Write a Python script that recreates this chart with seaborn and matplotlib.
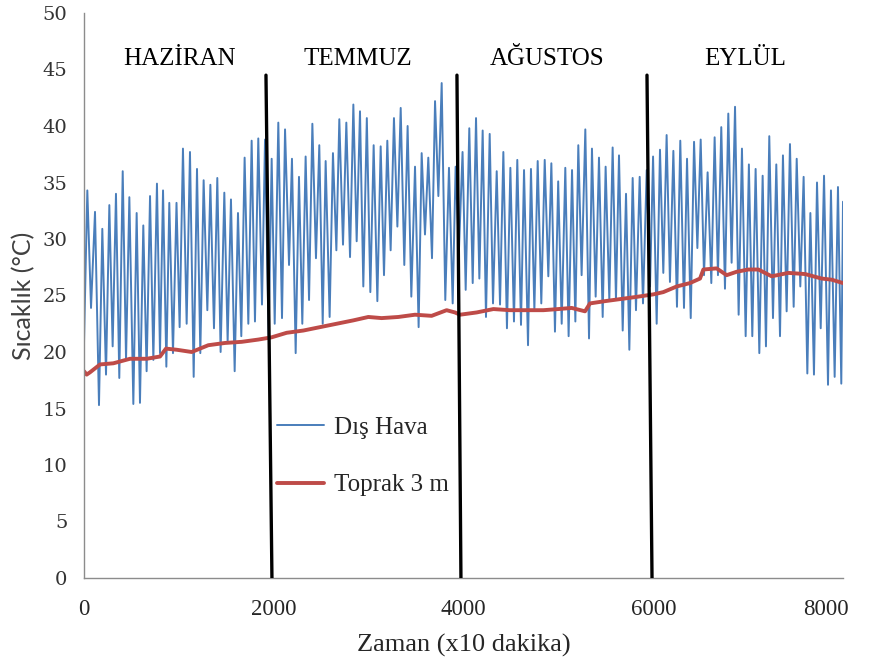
import matplotlib
matplotlib.use("Agg")
import matplotlib.pyplot as plt
import matplotlib.transforms as mtransforms
import pandas as pd
import seaborn as sns

# Outdoor air temperature: successive daily highs and lows (time in x10 min, °C)
air_x = [0, 35, 74, 116, 158, 193, 232, 267, 302, 337, 372, 408, 443, 478, 520, 555,
         590, 625, 660, 696, 731, 769, 801, 833, 868, 899, 938, 975, 1008, 1043, 1082,
         1117, 1156, 1191, 1226, 1261, 1300, 1332, 1370, 1405, 1440, 1479, 1514, 1549,
         1588, 1623, 1658, 1693, 1732, 1767, 1802, 1837, 1876, 1908, 1946, 1978, 2010,
         2048, 2087, 2119, 2161, 2192, 2231, 2266, 2301, 2336, 2372, 2407, 2445, 2480,
         2516, 2547, 2589, 2624, 2660, 2691, 2730, 2765, 2804, 2839, 2874, 2909, 2944,
         2981, 3018, 3053, 3092, 3127, 3162, 3197, 3232, 3267, 3303, 3338, 3376, 3411,
         3450, 3489, 3527, 3559, 3594, 3629, 3668, 3700, 3735, 3770, 3808, 3847, 3886,
         3917, 3952, 3990, 4023, 4061, 4097, 4132, 4167, 4202, 4237, 4276, 4311, 4350,
         4385, 4420, 4458, 4494, 4532, 4567, 4606, 4638, 4680, 4711, 4747, 4782, 4820,
         4856, 4894, 4926, 4964, 4998, 5035, 5073, 5108, 5144, 5179, 5210, 5245, 5284,
         5323, 5354, 5393, 5428, 5467, 5498, 5537, 5572, 5607, 5639, 5678, 5713, 5748,
         5783, 5818, 5857, 5892, 5931, 5966, 5998, 6036, 6071, 6106, 6141, 6176, 6212,
         6250, 6285, 6324, 6356, 6395, 6430, 6465, 6500, 6535, 6573, 6612, 6647, 6682,
         6717, 6756, 6791, 6826, 6862, 6900, 6935, 6974, 7008, 7044, 7079, 7118, 7153,
         7188, 7223, 7262, 7297, 7336, 7367, 7406, 7441, 7480, 7512, 7550, 7585, 7624,
         7656, 7694, 7726, 7765, 7800, 7842, 7873, 7912, 7947, 7982, 8000]
air_t = [20.8, 34.3, 23.9, 32.4, 15.3, 30.9, 18.0, 33.0, 20.5, 34.0, 17.7, 36.0, 19.3,
         33.7, 15.4, 32.3, 15.5, 31.2, 18.3, 33.8, 19.3, 34.9, 19.9, 34.3, 18.7, 33.2,
         19.9, 33.2, 22.2, 38.0, 22.5, 37.7, 17.8, 36.2, 19.9, 35.2, 23.7, 34.8, 22.1,
         35.4, 20.0, 34.1, 20.9, 33.5, 18.3, 32.3, 21.4, 37.2, 22.5, 38.7, 22.7, 38.9,
         24.2, 38.8, 21.4, 37.1, 22.5, 40.3, 23.0, 39.7, 27.7, 37.1, 19.9, 35.5, 22.5,
         37.3, 24.6, 40.2, 28.3, 38.3, 22.5, 36.9, 23.1, 37.6, 29.0, 40.6, 29.5, 40.3,
         28.4, 41.9, 29.8, 41.3, 25.8, 40.7, 25.3, 38.3, 24.5, 38.2, 26.8, 38.7, 29.0,
         40.7, 31.1, 41.6, 27.7, 40.0, 24.9, 36.4, 22.2, 37.6, 30.4, 37.2, 28.3, 42.2,
         33.8, 43.8, 24.6, 36.3, 24.3, 36.4, 29.0, 37.7, 25.5, 39.8, 26.1, 40.7, 26.5,
         39.6, 23.1, 39.3, 24.3, 36.0, 24.2, 37.7, 22.1, 36.3, 22.7, 37.0, 22.4, 36.1,
         20.6, 36.2, 23.7, 36.9, 24.3, 37.0, 26.7, 36.7, 21.8, 35.1, 22.5, 36.3, 21.4,
         36.1, 22.7, 38.3, 26.8, 39.7, 21.2, 38.0, 24.9, 37.2, 23.1, 36.4, 24.6, 38.1,
         24.6, 37.4, 21.9, 34.0, 20.2, 35.4, 23.7, 35.5, 24.3, 36.1, 25.8, 37.3, 22.5,
         37.9, 27.0, 39.2, 26.2, 37.8, 24.0, 38.7, 23.9, 37.1, 23.0, 38.6, 29.2, 38.8,
         26.8, 35.9, 26.1, 39.0, 26.8, 39.9, 25.6, 41.1, 27.9, 41.7, 23.3, 38.0, 21.4,
         36.6, 21.4, 36.2, 19.9, 35.6, 20.5, 39.1, 23.0, 36.6, 21.4, 37.4, 23.6, 38.4,
         24.0, 37.1, 25.8, 35.5, 18.1, 32.3, 18.0, 35.0, 22.1, 35.6, 17.1, 34.3, 17.8,
         34.6, 17.2, 33.3]

# Soil temperature at 3 m depth
soil_x = [0, 28, 63, 169, 309, 485, 660, 801, 864, 977, 1135, 1310, 1486, 1662, 1837,
          1978, 2136, 2312, 2487, 2663, 2839, 2997, 3137, 3313, 3489, 3664, 3822, 3910,
          3963, 4139, 4315, 4490, 4666, 4842, 4999, 5140, 5281, 5333, 5491, 5667, 5842,
          6001, 6106, 6247, 6387, 6493, 6528, 6668, 6774, 6879, 7002, 7108, 7248, 7424,
          7599, 7775, 7880, 8000]
soil_t = [18.3, 18.0, 18.2, 18.9, 19.0, 19.4, 19.4, 19.6, 20.3, 20.2, 20.0, 20.6, 20.8,
          20.9, 21.1, 21.3, 21.7, 21.9, 22.2, 22.5, 22.8, 23.1, 23.0, 23.1, 23.3, 23.2,
          23.7, 23.5, 23.3, 23.5, 23.8, 23.7, 23.7, 23.7, 23.8, 23.9, 23.6, 24.3, 24.5,
          24.7, 24.9, 25.1, 25.3, 25.8, 26.1, 26.5, 27.3, 27.4, 26.8, 27.1, 27.3, 27.3,
          26.7, 27.0, 26.9, 26.5, 26.4, 26.1]

series_names = ["Dış Hava", "Toprak 3 m"]

# Month headings and the hand-drawn month boundaries
month_names = ["HAZİRAN", "TEMMUZ", "AĞUSTOS", "EYLÜL"]
month_label_x = [1010, 2890, 4880, 6970]
month_label_y = 45.9
divider_top_x = [1918, 3931, 5934]
divider_bottom_x = [1981, 3973, 5987]
divider_top_y = 44.5

x_ticks = [0, 2000, 4000, 6000, 8000]
y_ticks = list(range(0, 51, 5))

sns.set_style("white")
plt.rcParams["font.family"] = ["Liberation Serif", "DejaVu Serif"]

fig = plt.figure(figsize=(8.72, 6.63), dpi=100)
ax = fig.add_axes([84 / 872, 1 - 578 / 663, 759 / 872, 565 / 663])

air = pd.DataFrame({"zaman": air_x, "sicaklik": air_t})
soil = pd.DataFrame({"zaman": soil_x, "sicaklik": soil_t})

sns.lineplot(data=air, x="zaman", y="sicaklik", ax=ax, color="#4A7EBB", lw=1.4,
             label=series_names[0], estimator=None, sort=False)
sns.lineplot(data=soil, x="zaman", y="sicaklik", ax=ax, color="#BE4B48", lw=2.8,
             label=series_names[1], estimator=None, sort=False)

for xt, xb in zip(divider_top_x, divider_bottom_x):
    ax.plot([xt, xb], [divider_top_y, 0], color="black", lw=2.4, zorder=5)

for name, mx in zip(month_names, month_label_x):
    ax.text(mx, month_label_y, name, ha="center", va="center", fontsize=18,
            color="black")

ax.set_xlim(0, 8000)
ax.set_ylim(0, 50)
ax.set_xticks(x_ticks)
ax.set_yticks(y_ticks)
ax.set_xticklabels([str(v) for v in x_ticks], fontsize=16.5)
ax.set_yticklabels([str(v) for v in y_ticks], fontsize=14, family="DejaVu Serif",
                   color="#333333")

for side in ("top", "right"):
    ax.spines[side].set_visible(False)
for side in ("left", "bottom"):
    ax.spines[side].set_color("#8c8c8c")
    ax.spines[side].set_linewidth(1.0)
ax.tick_params(axis="both", direction="out", length=6, width=1.0, color="#8c8c8c")
ax.tick_params(axis="x", pad=9)
ax.tick_params(axis="y", pad=6)

# keep the last x label inside the figure edge
last = ax.get_xticklabels()[-1]
last.set_transform(last.get_transform() +
                   mtransforms.ScaledTranslation(-17 / 100, 0, fig.dpi_scale_trans))

ax.set_xlabel("Zaman (x10 dakika)", fontsize=19, labelpad=10)
ax.set_ylabel("Sıcaklık (°C)", fontsize=18, family=["Lato", "DejaVu Sans"],
              color="#404040", labelpad=5)

ax.legend(loc="upper left", bbox_to_anchor=(0.224, 0.326), frameon=False, fontsize=18,
          handlelength=1.9, labelspacing=1.4, handletextpad=0.4)

fig.savefig("out.png", dpi=100)
